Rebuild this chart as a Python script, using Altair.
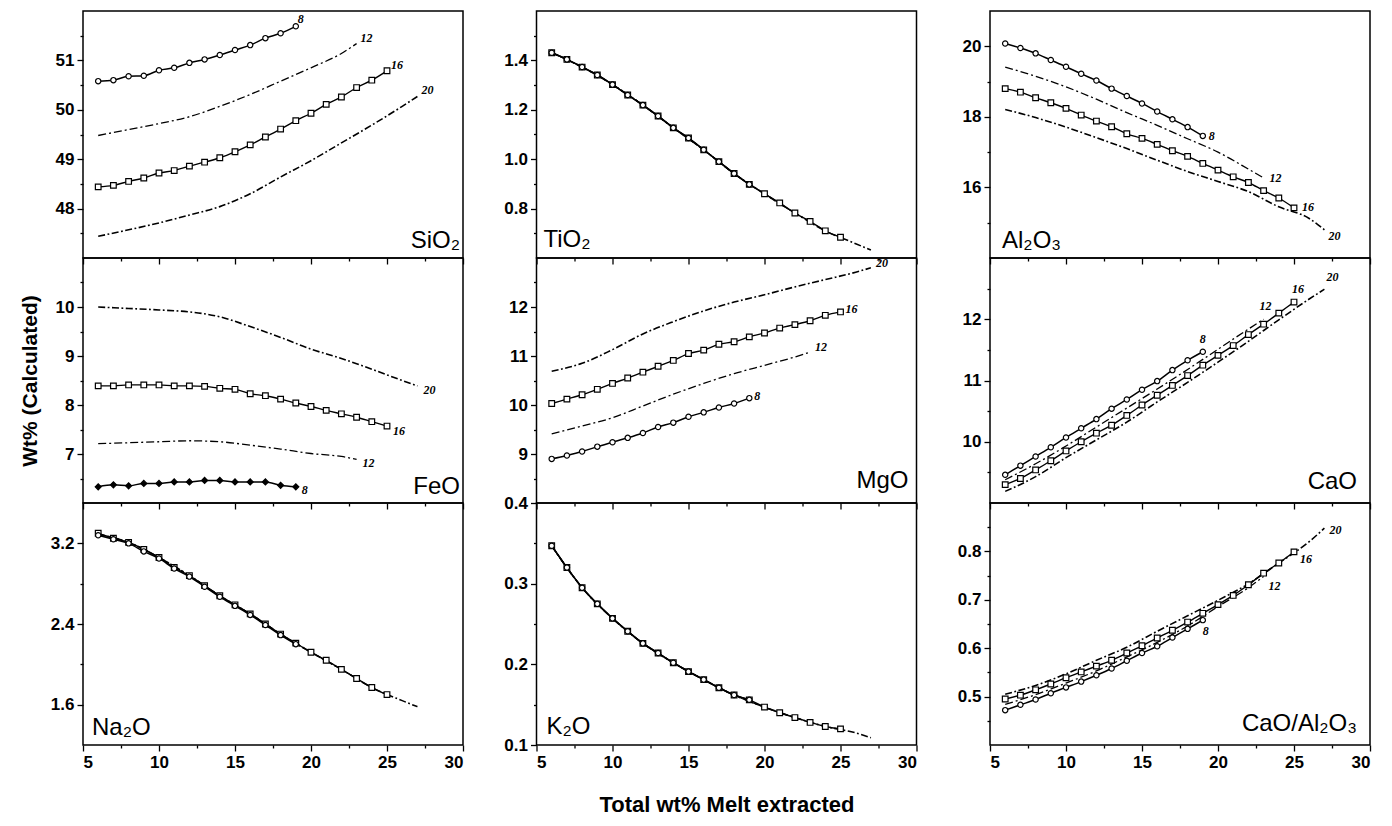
import altair as alt
import pandas as pd

# ---------------- data ----------------
X_8 = [6, 7, 8, 9, 10, 11, 12, 13, 14, 15, 16, 17, 18, 19]
X_16 = [6, 7, 8, 9, 10, 11, 12, 13, 14, 15, 16, 17, 18, 19, 20, 21, 22, 23, 24, 25]
X_12 = [6, 8, 10, 12, 14, 16, 18, 20, 22, 23]
X_20 = [6, 8, 10, 12, 14, 16, 18, 20, 22, 24, 26, 27]

SIO2_8 = [50.58, 50.60, 50.68, 50.69, 50.80, 50.85, 50.95, 51.02, 51.11, 51.21, 51.31, 51.45, 51.55, 51.69]
SIO2_16 = [48.44, 48.47, 48.55, 48.62, 48.72, 48.77, 48.86, 48.94, 49.03, 49.15, 49.29, 49.45, 49.61, 49.78,
           49.93, 50.11, 50.26, 50.45, 50.60, 50.79]
SIO2_12 = [49.48, 49.60, 49.72, 49.86, 50.07, 50.31, 50.58, 50.85, 51.14, 51.34]
SIO2_20 = [47.44, 47.57, 47.71, 47.87, 48.04, 48.30, 48.64, 48.97, 49.33, 49.69, 50.07, 50.27]

TIO2_8 = [1.431, 1.404, 1.373, 1.341, 1.302, 1.260, 1.219, 1.175, 1.127, 1.086, 1.038, 0.990, 0.942, 0.898]
TIO2_16 = [1.431, 1.404, 1.373, 1.341, 1.302, 1.260, 1.219, 1.175, 1.127, 1.086, 1.038, 0.990, 0.942, 0.898,
           0.860, 0.823, 0.782, 0.748, 0.710, 0.684]
TIO2_12 = [1.431, 1.373, 1.302, 1.219, 1.127, 1.038, 0.942, 0.860, 0.782, 0.748]
TIO2_20 = [1.431, 1.373, 1.302, 1.219, 1.127, 1.038, 0.942, 0.860, 0.782, 0.710, 0.658, 0.632]

AL2O3_8 = [20.08, 19.95, 19.80, 19.61, 19.42, 19.22, 19.03, 18.80, 18.59, 18.38, 18.15, 17.93, 17.71, 17.46]
AL2O3_16 = [18.80, 18.70, 18.54, 18.40, 18.24, 18.05, 17.88, 17.72, 17.52, 17.39, 17.22, 17.04, 16.88, 16.68,
            16.49, 16.30, 16.14, 15.91, 15.70, 15.42]
AL2O3_12 = [19.41, 19.15, 18.85, 18.50, 18.12, 17.76, 17.38, 17.00, 16.52, 16.27]
AL2O3_20 = [18.21, 17.98, 17.71, 17.41, 17.10, 16.77, 16.45, 16.17, 15.88, 15.45, 15.12, 14.80]

FEO_8 = [6.33, 6.37, 6.35, 6.40, 6.40, 6.43, 6.43, 6.46, 6.46, 6.43, 6.43, 6.43, 6.36, 6.33]
FEO_16 = [8.39, 8.39, 8.41, 8.41, 8.41, 8.39, 8.39, 8.38, 8.34, 8.32, 8.23, 8.19, 8.12, 8.04,
          7.97, 7.89, 7.82, 7.75, 7.66, 7.57]
FEO_12 = [7.21, 7.23, 7.25, 7.27, 7.25, 7.18, 7.10, 7.01, 6.95, 6.89]
FEO_20 = [10.00, 9.97, 9.94, 9.90, 9.80, 9.60, 9.38, 9.14, 8.95, 8.73, 8.50, 8.39]

MGO_8 = [8.90, 8.97, 9.05, 9.15, 9.24, 9.33, 9.43, 9.55, 9.64, 9.76, 9.85, 9.95, 10.03, 10.14]
MGO_16 = [10.03, 10.12, 10.21, 10.32, 10.44, 10.55, 10.67, 10.79, 10.91, 11.05, 11.12, 11.24, 11.29, 11.39,
          11.47, 11.57, 11.64, 11.72, 11.83, 11.90]
MGO_12 = [9.41, 9.57, 9.74, 9.98, 10.22, 10.44, 10.64, 10.81, 10.98, 11.08]
MGO_20 = [10.69, 10.85, 11.13, 11.45, 11.70, 11.92, 12.10, 12.25, 12.41, 12.56, 12.71, 12.80]

CAO_8 = [9.46, 9.61, 9.76, 9.91, 10.07, 10.22, 10.37, 10.54, 10.69, 10.85, 10.99, 11.17, 11.33, 11.47]
CAO_16 = [9.30, 9.40, 9.54, 9.69, 9.85, 10.00, 10.14, 10.27, 10.43, 10.60, 10.76, 10.92, 11.08, 11.25,
          11.41, 11.57, 11.75, 11.92, 12.10, 12.28]
CAO_12 = [9.38, 9.64, 9.93, 10.24, 10.55, 10.86, 11.18, 11.51, 11.84, 12.00]
CAO_20 = [9.19, 9.43, 9.74, 10.03, 10.32, 10.65, 10.97, 11.30, 11.64, 11.99, 12.33, 12.49]

NA2O_8 = [3.28, 3.24, 3.20, 3.12, 3.05, 2.95, 2.87, 2.77, 2.67, 2.58, 2.49, 2.39, 2.29, 2.20]
NA2O_16 = [3.30, 3.25, 3.21, 3.14, 3.06, 2.96, 2.88, 2.78, 2.68, 2.59, 2.50, 2.40, 2.30, 2.21,
           2.12, 2.04, 1.95, 1.86, 1.77, 1.70]
NA2O_12 = [3.29, 3.21, 3.06, 2.88, 2.68, 2.50, 2.30, 2.12, 1.95, 1.86]
NA2O_20 = [3.29, 3.21, 3.06, 2.88, 2.68, 2.50, 2.30, 2.12, 1.95, 1.77, 1.64, 1.58]

K2O_8 = [0.347, 0.320, 0.295, 0.275, 0.257, 0.241, 0.226, 0.214, 0.202, 0.191, 0.181, 0.171, 0.162, 0.156]
K2O_16 = [0.347, 0.320, 0.295, 0.275, 0.257, 0.241, 0.226, 0.214, 0.202, 0.191, 0.181, 0.171, 0.162, 0.156,
          0.147, 0.140, 0.134, 0.128, 0.123, 0.120]
K2O_12 = [0.347, 0.295, 0.257, 0.226, 0.202, 0.181, 0.162, 0.147, 0.134, 0.128]
K2O_20 = [0.347, 0.295, 0.257, 0.226, 0.202, 0.181, 0.162, 0.147, 0.134, 0.123, 0.115, 0.109]

RATIO_8 = [0.472, 0.483, 0.494, 0.507, 0.519, 0.531, 0.544, 0.558, 0.574, 0.590, 0.604, 0.622, 0.640, 0.658]
RATIO_16 = [0.495, 0.503, 0.514, 0.526, 0.539, 0.551, 0.563, 0.575, 0.590, 0.605, 0.621, 0.637, 0.654, 0.672,
            0.690, 0.709, 0.731, 0.755, 0.776, 0.799]
RATIO_12 = [0.484, 0.504, 0.528, 0.553, 0.582, 0.612, 0.646, 0.686, 0.725, 0.748]
RATIO_20 = [0.505, 0.523, 0.547, 0.575, 0.602, 0.635, 0.667, 0.699, 0.733, 0.776, 0.820, 0.848]

X_MAJOR = [5, 10, 15, 20, 25, 30]
X_MINOR = [7.5, 12.5, 17.5, 22.5, 27.5]

CURVE_NAMES = ["8", "12", "16", "20"]

PANELS = [
    dict(name="SiO₂", domain=[47, 52], major=[48, 49, 50, 51], minor=[47.5, 48.5, 49.5, 50.5, 51.5], fmt=".0f",
         data=[SIO2_8, SIO2_12, SIO2_16, SIO2_20], side="right", lift=10, inset=3,
         labels={"8": (2, -7), "12": (4, -6), "16": (4, -6), "20": (4, -6)}),
    dict(name="TiO₂", domain=[0.6, 1.6], major=[0.8, 1.0, 1.2, 1.4], minor=[0.7, 0.9, 1.1, 1.3, 1.5], fmt=".1f",
         data=[TIO2_8, TIO2_12, TIO2_16, TIO2_20], side="left", lift=11, inset=7, labels={}),
    dict(name="Al₂O₃", domain=[14, 21], major=[16, 18, 20], minor=[15, 17, 19], fmt=".0f",
         data=[AL2O3_8, AL2O3_12, AL2O3_16, AL2O3_20], side="left", lift=10, inset=12,
         labels={"8": (6, 0), "12": (6, 0), "16": (8, -1), "20": (4, 6)}),
    dict(name="FeO", domain=[6, 11], major=[7, 8, 9, 10], minor=[6.5, 7.5, 8.5, 9.5, 10.5], fmt=".0f",
         data=[FEO_8, FEO_12, FEO_16, FEO_20], side="right", lift=9, inset=3,
         labels={"8": (6, 3), "12": (6, 4), "16": (6, 5), "20": (6, 4)}),
    dict(name="MgO", domain=[8, 13], major=[9, 10, 11, 12], minor=[8.5, 9.5, 10.5, 11.5, 12.5], fmt=".0f",
         data=[MGO_8, MGO_12, MGO_16, MGO_20], side="right", lift=15, inset=8,
         labels={"8": (5, -2), "12": (5, -5), "16": (5, -3), "20": (5, -5)}),
    dict(name="CaO", domain=[9, 13], major=[10, 11, 12], minor=[9.5, 10.5, 11.5, 12.5], fmt=".0f",
         data=[CAO_8, CAO_12, CAO_16, CAO_20], side="right", lift=14, inset=13,
         labels={"8": (-3, -13), "12": (-4, -13), "16": (-2, -13), "20": (2, -12)}),
    dict(name="Na₂O", domain=[1.2, 3.6], major=[1.6, 2.4, 3.2], minor=[2.0, 2.8], fmt=".1f",
         data=[NA2O_8, NA2O_12, NA2O_16, NA2O_20], side="left", lift=10, inset=9, labels={}),
    dict(name="K₂O", domain=[0.1, 0.4], major=[0.1, 0.2, 0.3, 0.4], minor=[0.15, 0.25, 0.35], fmt=".1f",
         data=[K2O_8, K2O_12, K2O_16, K2O_20], side="left", lift=11, inset=10, labels={}),
    dict(name="CaO/Al₂O₃", domain=[0.4, 0.9], major=[0.5, 0.6, 0.7, 0.8], minor=[0.45, 0.55, 0.65, 0.75, 0.85],
         fmt=".1f", data=[RATIO_8, RATIO_12, RATIO_16, RATIO_20], side="right", lift=14, inset=13,
         labels={"8": (0, 11), "12": (5, 9), "16": (6, 7), "20": (5, 2)}),
]

X_BY_CURVE = {"8": X_8, "12": X_12, "16": X_16, "20": X_20}

WIDTH = 380
HEIGHTS = [247, 245, 242]
FONT = "Liberation Sans"


def tick_size(major, big, small):
    majors = ",".join(str(v) for v in major)
    return {"condition": {"test": f"indexof([{majors}], datum.value) < 0", "value": small}, "value": big}


def label_expr(major, fmt):
    majors = ",".join(str(v) for v in major)
    return f"indexof([{majors}], datum.value) >= 0 ? format(datum.value, '{fmt}') : ''"


def make_panel(i, spec):
    row, col = divmod(i, 3)
    h = HEIGHTS[row]
    rows = []
    for cname, ys in zip(CURVE_NAMES, spec["data"]):
        for xv, yv in zip(X_BY_CURVE[cname], ys):
            rows.append({"x": xv, "y": yv, "c": cname})
    df = pd.DataFrame(rows)

    bottom = row == 2
    x_axis_kw = dict(values=X_MAJOR + X_MINOR, labelExpr=label_expr(X_MAJOR, ".0f"),
                     tickSize=tick_size(X_MAJOR, 6, 3), labelOverlap=False,
                     labelFontSize=17, labelPadding=3, titleFontSize=22, titlePadding=24)
    if not bottom:
        x_axis_kw["labels"] = False
    x_enc = alt.X("x:Q", scale=alt.Scale(domain=[5, 30], nice=False, zero=False),
                  axis=alt.Axis(**x_axis_kw),
                  title=("Total wt% Melt extracted" if (bottom and col == 1) else None))

    y_axis = alt.Axis(values=spec["major"] + spec["minor"], labelExpr=label_expr(spec["major"], spec["fmt"]),
                      tickSize=tick_size(spec["major"], 6, 3), labelOverlap=False,
                      labelFontSize=17, labelPadding=3, minExtent=38, maxExtent=38,
                      titleFontSize=21, titlePadding=5)
    y_enc = alt.Y("y:Q", scale=alt.Scale(domain=spec["domain"], nice=False, zero=False),
                  axis=y_axis,
                  title=("Wt% (Calculated)" if (row == 1 and col == 0) else None))

    base = alt.Chart(df).encode(x=x_enc, y=y_enc)
    layers = [
        base.transform_filter("datum.c == '20'").mark_line(
            color="black", strokeWidth=1.6, strokeDash=[7, 2.5, 1.8, 2.5], interpolate="monotone"),
        base.transform_filter("datum.c == '12'").mark_line(
            color="black", strokeWidth=1.3, strokeDash=[8, 3, 2, 3], interpolate="monotone"),
        base.transform_filter("datum.c == '16'").mark_line(
            color="black", strokeWidth=1.4, interpolate="monotone"),
        base.transform_filter("datum.c == '16'").mark_point(
            shape="square", size=32, filled=True, fill="white", stroke="black", strokeWidth=1.2, opacity=1),
        base.transform_filter("datum.c == '8'").mark_line(
            color="black", strokeWidth=1.5, interpolate="monotone"),
        base.transform_filter("datum.c == '8'").mark_point(
            shape="diamond" if spec["name"] == "FeO" else "circle",
            size=36 if spec["name"] == "FeO" else 28, filled=True,
            fill="black" if spec["name"] == "FeO" else "white",
            stroke="black", strokeWidth=1.2, opacity=1),
    ]

    for cname, (dx, dy) in spec["labels"].items():
        xs = X_BY_CURVE[cname]
        ys = spec["data"][CURVE_NAMES.index(cname)]
        lab = pd.DataFrame({"x": [xs[-1]], "y": [ys[-1]], "t": [cname]})
        layers.append(
            alt.Chart(lab).mark_text(
                dx=dx, dy=dy, align="left", baseline="middle", font="Liberation Serif",
                fontStyle="italic", fontWeight="bold", fontSize=12, color="black"
            ).encode(x=x_enc, y=y_enc, text="t:N")
        )

    name_df = pd.DataFrame({"t": [spec["name"]]})
    if spec["side"] == "right":
        nx, al = WIDTH - spec["inset"], "right"
    else:
        nx, al = spec["inset"], "left"
    layers.append(
        alt.Chart(name_df).mark_text(
            align=al, baseline="alphabetic", font=FONT, fontSize=24, color="black"
        ).encode(text="t:N", x=alt.value(nx), y=alt.value(h - spec["lift"]))
    )

    return alt.layer(*layers).properties(width=WIDTH, height=h)


panels = [make_panel(i, s) for i, s in enumerate(PANELS)]

chart = alt.concat(
    *panels, columns=3, spacing=alt.RowColnumber(row=0, column=73.5), bounds="flush"
).properties(
    padding={"left": 18, "top": 10, "right": 5, "bottom": 5},
    background="white",
).configure_view(
    stroke="black", strokeWidth=1.5
).configure_axis(
    labelFont=FONT, labelFontWeight="bold", labelColor="black",
    titleFont=FONT, titleFontWeight="bold", titleColor="black",
    tickColor="black", tickWidth=1.3, domain=False, grid=False,
)

chart.save("out.html", embed_options={"renderer": "svg", "actions": False})
